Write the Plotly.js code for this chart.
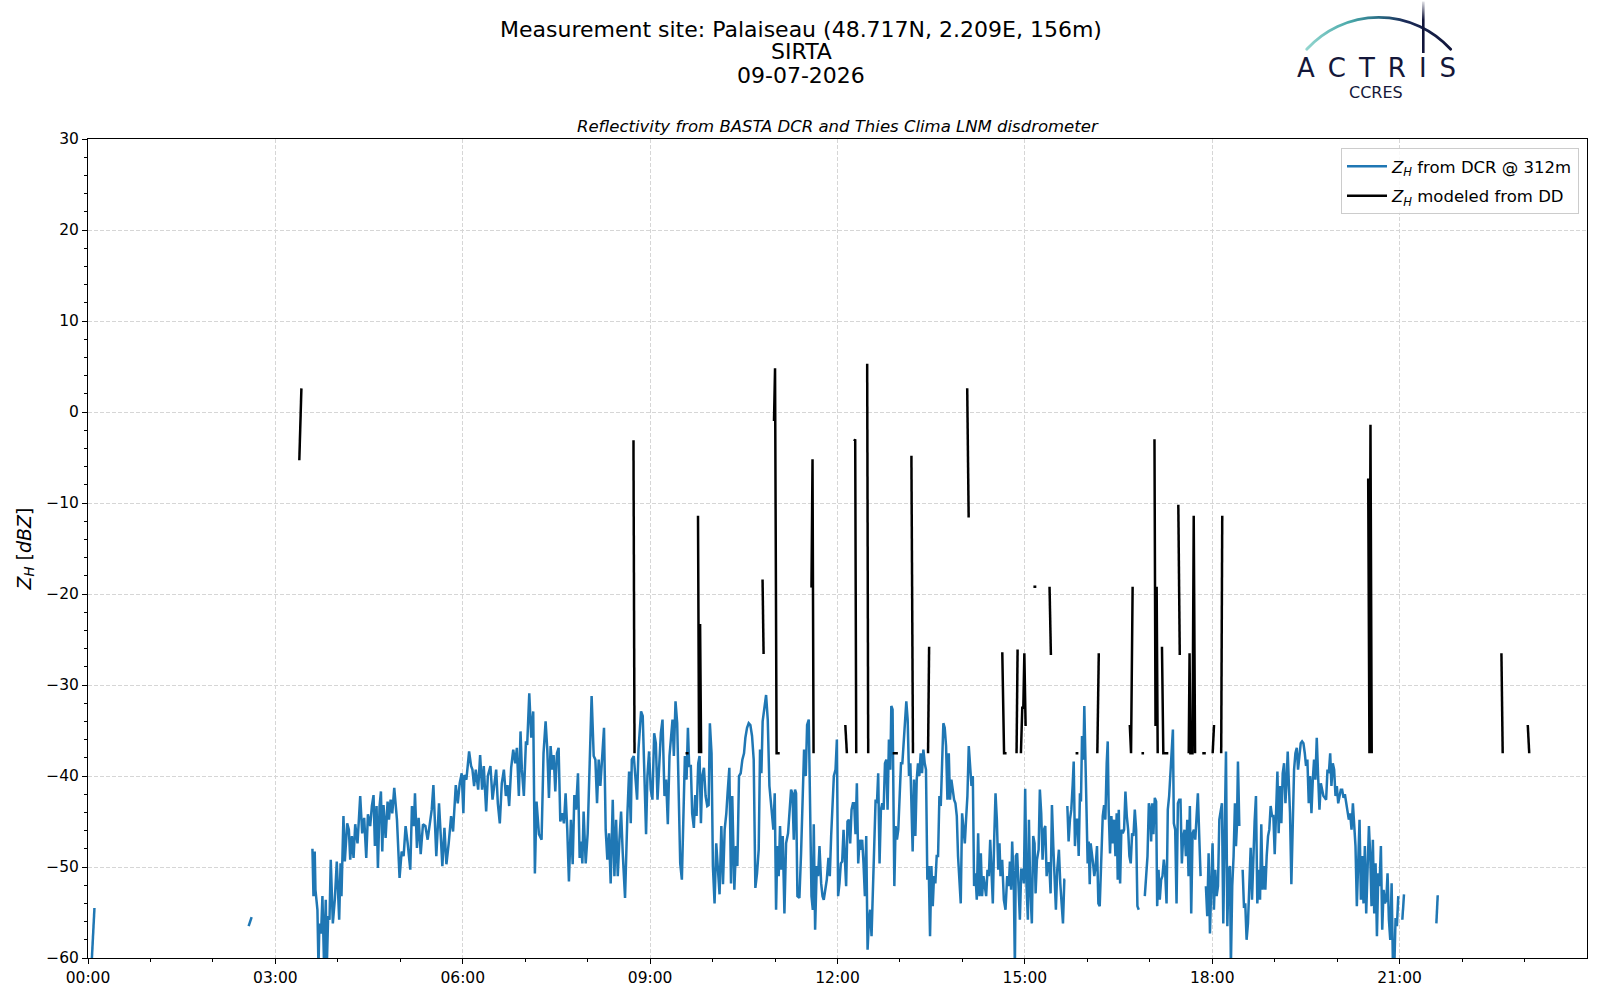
<!DOCTYPE html>
<html>
<head>
<meta charset="utf-8">
<script src="https://cdn.plot.ly/plotly-3.0.1.min.js"></script>
<style>html,body{margin:0;padding:0;background:#fff}#chart{width:1600px;height:1000px}</style>
</head>
<body>
<div id="chart"></div>
<script>
// ---------- data (time in minutes of day, reflectivity in dBZ) ----------
const tickMinutes = [0, 180, 360, 540, 720, 900, 1080, 1260];
const tickLabels = ['00:00', '03:00', '06:00', '09:00', '12:00', '15:00', '18:00', '21:00'];
const minorTickMinutes = [60, 120, 240, 300, 420, 480, 600, 660, 780, 840, 960, 1020, 1140, 1200, 1320, 1380];
const yTickStep = 10;
const yRange = [-60, 30];

const dcrTime = [
3.3,6.2,null,154.3,157.2,null,215.6,216.6,217.8,218.5,
220.4,221.4,222.3,223.9,225.2,226.8,228.4,229.4,230.7,232.0,
233.2,235.2,237.1,239.0,241.3,242.6,243.5,245.4,246.7,249.0,
250.6,251.9,253.5,255.1,256.7,258.9,261.5,263.4,265.3,267.3,
268.9,271.1,272.7,274.3,275.6,277.2,278.5,280.1,281.4,282.7,
283.9,285.9,287.8,289.1,290.7,292.3,294.2,296.8,299.3,301.3,
303.2,305.1,307.1,309.6,311.2,313.1,314.1,316.0,317.6,319.6,
321.8,324.1,326.3,328.2,330.2,331.8,333.0,334.6,337.2,338.5,
340.4,342.4,344.3,346.5,348.8,350.7,353.3,355.2,357.1,359.0,
360.6,361.6,363.5,366.1,368.0,369.3,370.9,372.5,374.8,376.7,
378.6,380.2,382.5,384.1,386.6,388.6,390.5,392.1,393.7,395.6,
397.5,399.5,401.4,403.0,404.6,406.5,408.5,410.4,412.0,413.9,
415.5,416.8,418.7,420.7,421.9,423.9,425.8,427.7,429.3,430.9,
433.2,435.7,437.6,439.6,441.2,442.8,444.4,446.0,447.3,448.9,
450.5,452.1,453.7,455.6,457.2,458.8,460.4,462.0,463.9,465.6,
467.2,468.8,470.7,472.3,473.6,474.9,476.1,478.1,480.0,481.3,
482.6,483.8,485.8,487.4,489.0,490.6,492.2,493.8,495.7,497.3,
498.9,500.5,502.1,504.1,505.7,507.3,508.9,510.5,512.1,513.7,
515.9,518.2,519.8,521.4,522.4,524.3,525.6,527.5,528.8,530.1,
531.3,532.9,534.5,536.1,537.4,539.0,540.6,542.2,543.9,545.5,
547.1,548.7,550.3,551.9,553.8,555.4,557.0,558.6,560.2,561.5,
562.8,564.4,566.0,567.3,568.9,570.5,572.1,573.4,575.0,576.3,
577.5,579.1,580.4,582.0,583.3,584.6,586.2,587.5,588.8,590.1,
591.7,593.3,594.9,596.2,597.4,599.0,600.3,601.9,603.5,605.1,
606.7,608.4,610.0,611.6,613.2,614.4,616.1,617.7,618.9,620.9,
622.5,623.8,625.4,627.0,628.6,630.2,631.5,633.1,634.7,636.3,
637.9,639.5,641.1,642.7,644.3,645.6,646.9,648.1,649.7,651.4,
653.0,654.6,658.4,659.7,661.0,662.2,663.5,664.8,666.1,667.4,
669.0,670.6,672.5,673.8,675.4,676.7,678.0,679.2,680.2,681.5,
683.4,685.0,686.6,687.9,689.5,690.8,692.4,693.7,695.0,696.3,
697.2,698.5,700.1,701.4,702.7,704.3,705.6,706.8,708.4,709.7,
711.3,712.6,713.9,715.2,716.5,718.1,719.4,720.6,721.9,723.2,
724.5,725.8,727.1,728.3,729.6,730.9,732.2,733.5,734.8,736.0,
737.3,738.6,739.9,741.2,742.5,743.7,745.0,746.3,747.6,748.9,
750.2,751.4,752.7,754.0,755.3,756.6,757.9,759.1,760.4,761.7,
763.0,764.3,765.6,766.9,768.1,769.4,770.7,771.7,772.9,774.6,
775.8,777.1,778.4,779.7,781.0,782.3,783.5,784.8,786.1,787.4,
788.7,790.0,791.2,792.2,793.5,794.8,796.1,797.3,798.6,799.9,
801.2,802.5,803.8,805.0,806.3,807.6,808.9,810.2,811.5,812.7,
814.0,815.3,816.6,817.9,819.2,820.4,821.7,823.0,824.3,825.6,
826.9,828.1,829.4,830.7,832.0,833.3,834.6,835.8,837.1,838.4,
839.7,841.0,842.3,843.5,844.8,846.1,847.4,848.7,850.0,851.2,
852.5,853.8,855.1,856.4,857.7,858.9,860.2,861.5,862.8,864.1,
865.4,866.7,867.9,869.2,870.5,871.8,873.1,874.4,875.6,876.6,
878.2,879.8,881.4,883.0,884.6,885.6,886.8,887.8,889.4,890.4,
891.3,892.6,893.9,895.2,896.5,897.8,899.0,900.3,901.6,902.9,
903.9,905.1,906.7,908.0,909.3,910.3,911.6,913.2,914.4,915.7,
917.0,918.3,919.6,920.9,922.1,923.4,924.7,926.0,927.3,928.6,
929.8,931.1,932.7,934.0,935.3,936.6,937.9,938.8,null,940.8,
942.0,943.3,944.6,945.9,946.9,948.1,949.4,950.7,951.7,952.9,
953.9,954.9,956.2,957.1,958.4,959.4,960.3,961.3,962.3,963.2,
964.2,965.5,966.7,968.0,969.3,970.6,971.9,973.2,974.8,976.1,
977.3,978.6,979.6,980.5,981.8,983.1,984.4,985.7,987.0,988.2,
989.2,990.2,991.5,992.7,994.0,995.3,996.6,997.9,999.2,1000.4,
1001.7,1003.0,1004.3,1005.6,1006.9,1008.1,1009.4,null,1015.2,1016.5,
1017.8,1019.1,1020.3,1021.3,1022.3,1023.5,1024.8,1026.1,1027.1,1028.4,
1029.6,1030.9,1032.2,1033.5,1034.8,1036.1,1037.3,1038.6,1039.9,1041.2,
1042.2,1043.1,1044.4,1045.7,1047.0,1048.3,1049.5,1050.8,1052.1,1053.4,
1054.7,1056.0,1057.2,1058.5,1059.8,1061.1,1062.4,1063.7,1064.9,1066.2,
1067.5,1068.8,null,1073.9,1075.2,1076.5,1077.8,1079.1,1080.3,1081.6,
1082.9,1084.2,1085.5,1086.8,1088.0,1089.3,1090.6,1091.9,1093.2,1094.5,
1095.7,1097.0,1097.9,1099.2,1100.5,1101.8,1102.8,1103.7,1104.7,1106.0,
null,1109.2,1110.5,1111.7,1113.0,1114.3,1115.6,1116.9,1118.2,1119.4,
1120.7,1122.0,1123.3,1124.6,1125.9,1127.1,1128.4,1129.7,1131.0,1132.3,
1133.6,1134.8,1136.1,1137.4,1138.7,1140.0,1141.3,1142.6,1143.8,1145.1,
1146.4,1147.7,1149.0,1150.3,1151.5,1152.5,1153.8,1154.7,1156.0,1157.3,
1158.6,1159.9,1161.2,1162.4,1163.7,1165.0,1166.3,1167.6,1168.9,1170.1,
1171.4,1172.7,1174.0,1175.3,1176.6,1177.8,1179.1,1180.4,1181.7,1183.0,
1184.3,1185.6,1186.8,1188.1,1189.4,1190.7,1192.0,1193.3,1194.5,1195.8,
1197.1,1198.4,1199.7,1201.0,1202.2,1203.5,1204.8,1206.1,1207.4,1208.7,
1209.9,1211.2,1212.5,1213.8,1215.1,1216.4,1217.6,1218.9,1220.2,1221.5,
1222.8,1224.1,1225.3,1226.6,1227.9,1229.2,1230.5,1231.8,1233.0,1234.3,
1235.6,1236.9,1238.2,1239.5,1240.7,1242.0,1243.3,1244.6,1245.9,1247.2,
1248.4,1249.7,1251.0,1252.3,1253.6,1254.9,1256.1,1257.4,1258.7,null,
1262.6,1264.2,null,1295.3,1296.6
];

const dcrZh = [
-61,-54.5,null,-56.5,-55.5,null,-48.0,-53.2,-48.3,-52.5,
-54.7,-61,-56.2,-57.3,-53.2,-61,-53.6,-61,-55.4,-55.8,
-49.2,-56.2,-53.6,-49.4,-55.8,-49.6,-53.2,-44.4,-49.4,-45.2,
-45.9,-49.2,-46.6,-49.0,-45.3,-47.4,-42.2,-46.3,-44.6,-49.0,
-44.2,-45.5,-43.3,-42.1,-47.7,-43.3,-50.1,-43.3,-41.7,-48.3,
-43.2,-46.8,-42.8,-44.8,-42.6,-44.1,-41.3,-44.8,-51.2,-48.3,
-48.8,-45.5,-47.4,-50.3,-43.3,-45.5,-41.9,-47.9,-44.6,-48.6,
-45.3,-45.5,-47.0,-45.2,-43.7,-41.0,-44.1,-48.8,-43.0,-45.9,
-49.9,-45.7,-49.7,-47.4,-44.4,-46.1,-41.0,-43.0,-40.8,-39.7,
-44.1,-39.9,-40.4,-37.3,-38.9,-39.3,-41.1,-39.3,-41.5,-37.7,
-41.5,-38.9,-43.9,-40.0,-38.9,-42.6,-40.4,-39.3,-43.0,-45.2,
-40.8,-39.3,-42.2,-41.0,-43.3,-39.1,-37.1,-38.6,-36.9,-42.2,
-35.1,-39.3,-42.2,-36.2,-36.6,-30.9,-35.8,-32.9,-50.7,-42.8,
-46.4,-47.0,-37.5,-34.0,-37.1,-42.4,-36.7,-39.3,-37.7,-41.7,
-37.5,-36.9,-45.0,-44.1,-45.2,-41.9,-45.9,-51.6,-44.8,-49.7,
-42.1,-43.7,-39.7,-49.0,-47.2,-49.6,-43.9,-49.6,-46.3,-41.5,
-37.3,-31.2,-37.8,-38.2,-43.0,-38.2,-41.1,-38.2,-34.7,-45.9,
-49.2,-46.3,-51.8,-42.6,-51.0,-44.8,-51.0,-47.0,-43.9,-48.5,
-53.4,-44.1,-39.5,-45.2,-38.2,-37.8,-39.7,-42.6,-37.1,-35.3,
-32.9,-33.4,-40.0,-46.4,-40.0,-37.3,-41.5,-42.6,-35.3,-36.4,
-42.6,-38.6,-35.3,-33.8,-42.2,-40.4,-45.3,-37.8,-35.3,-33.8,
-37.8,-31.8,-34.2,-41.5,-49.6,-51.4,-44.4,-37.8,-40.4,-34.7,
-38.9,-38.9,-44.1,-45.7,-42.1,-44.4,-38.6,-37.8,-45.2,-40.0,
-39.1,-42.2,-43.3,-43.2,-34.2,-37.5,-49.9,-54.0,-47.4,-50.3,
-53.0,-45.5,-51.9,-45.9,-44.1,-41.9,-39.1,-51.8,-42.2,-52.5,
-47.7,-49.9,-40.0,-39.7,-38.2,-37.5,-35.8,-34.7,-34.2,-34.4,
-35.6,-38.2,-52.3,-50.7,-48.1,-37.1,-39.7,-34.0,-32.7,-31.1,
-33.8,-41.1,-45.9,-41.9,-54.7,-47.7,-51.0,-45.5,-50.3,-46.6,
-55.1,-47.4,-46.3,-44.4,-41.5,-41.9,-47.0,-41.5,-41.9,-53.2,
-53.4,-48.5,-43.0,-37.1,-40.0,-34.4,-33.8,-43.0,-53.2,-54.7,
-45.3,-56.9,-49.9,-51.0,-47.7,-51.8,-53.2,-53.6,-52.1,-51.4,
-49.0,-51.0,-46.6,-42.6,-40.0,-39.3,-36.0,-53.2,-51.8,-49.6,
-49.4,-45.9,-49.9,-52.1,-45.0,-44.8,-47.4,-43.7,-43.0,-43.0,
-46.4,-40.8,-49.6,-47.0,-48.1,-47.0,-49.6,-53.2,-46.6,-59.1,
-55.8,-54.7,-57.6,-51.8,-48.8,-42.6,-43.0,-39.7,-49.6,-43.7,
-43.0,-43.7,-38.6,-38.2,-43.7,-36.0,-39.3,-32.3,-32.7,-52.1,
-45.5,-47.0,-45.9,-42.2,-38.6,-38.6,-36.0,-33.4,-31.8,-33.8,
-40.0,-38.6,-44.4,-48.3,-40.4,-46.6,-40.4,-38.6,-40.0,-37.5,
-39.7,-37.1,-38.6,-39.3,-51.4,-49.9,-57.6,-49.9,-54.3,-51.0,
-51.8,-48.8,-48.8,-42.2,-43.3,-37.8,-34.2,-34.7,-36.7,-42.6,
-37.5,-42.6,-40.4,-41.5,-42.6,-43.0,-44.4,-48.8,-51.8,-54.0,
-44.1,-45.5,-47.4,-44.8,-42.2,-36.7,-38.6,-41.1,-40.0,-52.1,
-50.7,-53.6,-46.3,-53.2,-48.5,-53.2,-51.0,-52.5,-53.2,-50.3,
-51.0,-47.0,-51.0,-54.0,-47.0,-41.9,-44.8,-50.3,-47.4,-51.0,
-49.2,-53.6,-54.7,-51.0,-52.1,-49.4,-52.5,-47.2,-52.3,-61,
-48.8,-48.5,-52.1,-55.8,-50.3,-50.3,-51.8,-41.4,-52.1,-55.8,
-44.8,-52.1,-56.2,-46.6,-47.4,-52.9,-49.2,-48.1,-41.5,-44.1,
-49.2,-45.9,-45.5,-51.0,-49.6,-49.6,-52.9,-43.2,-47.7,-52.1,
-54.7,-50.3,-48.1,-51.8,-53.6,-56.2,-51.4,-51.4,null,-43.3,
-47.2,-44.8,-43.7,-41.0,-38.4,-47.7,-44.8,-44.8,-48.8,-41.9,
-42.8,-35.6,-38.2,-32.3,-39.3,-43.3,-49.6,-47.2,-51.9,-47.4,
-48.8,-49.6,-51.0,-49.9,-47.7,-54.0,-54.3,-50.3,-44.4,-43.2,
-44.8,-38.6,-36.2,-43.7,-48.5,-44.4,-47.4,-44.8,-48.8,-44.1,
-51.4,-43.7,-51.8,-45.9,-46.3,-45.9,-41.7,-44.4,-45.9,-48.8,
-49.6,-46.3,-46.6,-43.7,-45.9,-54.3,-54.7,null,-53.2,-51.0,
-48.8,-43.0,-43.7,-47.2,-43.0,-46.4,-42.4,-42.8,-54.3,-50.3,
-53.6,-51.4,-51.0,-49.2,-50.7,-54.0,-43.7,-42.2,-39.3,-37.5,
-34.9,-45.2,-45.9,-54.0,-43.0,-42.6,-42.6,-49.6,-46.6,-45.9,
-48.8,-44.8,-51.0,-43.3,-55.1,-46.3,-45.9,-47.0,-43.7,-41.9,
-46.6,-51.0,null,-52.1,-55.4,-48.5,-57.3,-51.8,-47.4,-54.7,
-50.3,-53.2,-52.1,-44.8,-43.7,-43.0,-56.2,-47.7,-37.3,-56.5,
-50.3,-49.9,-61,-52.1,-48.8,-43.0,-47.7,-45.5,-38.4,-45.5,
null,-50.3,-54.5,-54.0,-58.0,-56.2,-51.1,-47.9,-53.6,-48.8,
-45.0,-42.2,-54.0,-50.3,-53.6,-45.3,-52.5,-49.9,-52.5,-48.8,
-46.6,-45.9,-43.3,-44.4,-44.4,-48.6,-43.7,-39.5,-46.3,-41.1,
-45.2,-39.7,-38.6,-43.0,-40.4,-37.3,-41.5,-44.1,-51.9,-44.4,
-39.3,-37.5,-36.9,-39.3,-37.8,-36.4,-36.2,-36.4,-37.5,-38.9,
-38.2,-43.0,-40.0,-44.1,-40.4,-38.2,-40.4,-35.8,-40.0,-43.7,
-40.8,-41.5,-42.2,-42.4,-42.6,-39.3,-39.7,-37.5,-41.1,-38.6,
-39.3,-42.2,-41.1,-43.0,-42.2,-41.5,-41.5,-42.4,-42.0,-43.0,
-43.7,-44.8,-44.1,-45.9,-43.0,-45.5,-47.7,-54.3,-50.3,-44.8,
-53.6,-48.8,-54.0,-47.7,-55.1,-49.9,-45.5,-48.8,-54.3,-47.0,
-55.1,-49.6,-57.6,-50.7,-52.1,-47.7,-56.9,-52.5,-54.0,-53.6,
-50.7,-55.8,-58.0,-51.8,-61,-61,-55.6,-56.5,-53.2,null,
-55.8,-53.0,null,-56.2,-53.1
];

const ddTime = [
203,205,null,
524,525,null,
574,577,null,
586,587,588,589,null,
648,649,null,
659,660,661.5,664.5,null,
695,696,697,null,
727.5,729,null,
736,737,738,null,
748.5,749.5,null,
773,778,null,
791,792.5,null,
807,808,null,
844.6,846,null,
878.3,880,882.4,null,
892,893,null,
896.2,897.5,898.5,899.5,900.7,null,
908.2,911,null,
923.7,925,null,
948.7,951.4,null,
969.6,971,null,
1000.8,1002,1003.5,null,
1012,1014.5,null,
1024.5,1025.5,1026.6,1027.6,null,
1031.7,1033,1037.8,null,
1047.4,1048.8,null,
1057.4,1058.2,1059,1061,1062.2,1063.5,null,
1070.4,1073.8,null,
1080.4,1081.7,null,
1088.6,1089.6,null,
1229.8,1231,1232,1233.2,null,
1357.8,1359,null,
1383.1,1384.5
];

const ddZh = [
-5.3,2.6,null,
-3.1,-37.5,null,
-37.5,-37.5,null,
-11.4,-37.5,-23.3,-37.5,null,
-18.4,-26.6,null,
-1.0,4.8,-37.5,-37.5,null,
-19.3,-5.2,-37.5,null,
-34.4,-37.5,null,
-3.2,-3.0,-37.5,null,
5.3,-37.5,null,
-37.5,-37.5,null,
-4.8,-37.5,null,
-37.5,-25.8,null,
2.6,-11.6,null,
-26.4,-37.5,-37.5,null,
-37.5,-26.1,null,
-37.5,-32.5,-32.5,-26.5,-34.5,null,
-19.2,-19.2,null,
-19.2,-26.7,null,
-37.5,-37.5,null,
-37.5,-26.5,null,
-34.4,-37.5,-19.2,null,
-37.5,-37.5,null,
-3.0,-34.5,-19.2,-37.5,null,
-25.8,-37.5,-37.5,null,
-10.2,-26.7,null,
-37.5,-26.5,-37.5,-37.5,-11.4,-37.5,null,
-37.5,-37.5,null,
-37.5,-34.4,null,
-37.5,-11.4,null,
-7.3,-37.5,-1.4,-37.5,null,
-26.5,-37.5,null,
-34.4,-37.5
];

const seriesNames = [
  '<i>Z</i><sub><i>H</i></sub> from DCR @ 312m',
  '<i>Z</i><sub><i>H</i></sub> modeled from DD'
];
const titleLines = ['Measurement site: Palaiseau (48.717N, 2.209E, 156m)', 'SIRTA', '09-07-2026'];
const subtitle = 'Reflectivity from BASTA DCR and Thies Clima LNM disdrometer';
const yLabel = '<i>Z</i><sub><i>H</i></sub> [<i>dBZ</i>]';
const logoWord = 'ACTRIS';
const logoSub = 'CCRES';

// ---------- layout helpers ----------
const W = 1600, H = 1000;
const M = {l: 88, r: 13, t: 139, b: 42};
const PW = W - M.l - M.r, PH = H - M.t - M.b;
const px = x => (x - M.l) / PW;
const py = y => (H - M.b - y) / PH;
const FONT = 'DejaVu Sans, Verdana, sans-serif';
const INK = '#14173a';

const traces = [
  {
    x: dcrTime, y: dcrZh, type: 'scatter', mode: 'lines', name: seriesNames[0],
    legendgroup: 'dcr', connectgaps: false,
    line: {color: '#1f77b4', width: 2.5}, hoverinfo: 'skip'
  },
  {
    x: ddTime, y: ddZh, type: 'scatter', mode: 'lines', name: seriesNames[1],
    legendgroup: 'dd', connectgaps: false,
    line: {color: '#000000', width: 2.5}, hoverinfo: 'skip'
  }
];

const logoSvg =
'<svg xmlns="http://www.w3.org/2000/svg" width="160" height="56" viewBox="0 0 160 56">' +
'<defs>' +
'<linearGradient id="g" x1="6" y1="0" x2="151" y2="0" gradientUnits="userSpaceOnUse">' +
'<stop offset="0" stop-color="#93d6cf"/><stop offset="0.3" stop-color="#4aa9aa"/>' +
'<stop offset="0.5" stop-color="#2a6e86"/><stop offset="0.68" stop-color="#1b2b58"/>' +
'<stop offset="1" stop-color="#11153a"/></linearGradient>' +
'<linearGradient id="v" x1="0" y1="0" x2="0" y2="56" gradientUnits="userSpaceOnUse">' +
'<stop offset="0" stop-color="#11153a" stop-opacity="0.05"/><stop offset="0.35" stop-color="#11153a"/>' +
'<stop offset="1" stop-color="#11153a"/></linearGradient>' +
'</defs>' +
'<path d="M6.7 49.3 A97 97 0 0 1 150.7 49.3" fill="none" stroke="url(#g)" stroke-width="2.8" stroke-linecap="round"/>' +
'<line x1="123.3" y1="1.5" x2="123.3" y2="53" stroke="url(#v)" stroke-width="2.6"/>' +
'</svg>';

const annText = (text, x, y, size, extra) => Object.assign({
  text: text, x: px(x), y: py(y), xref: 'paper', yref: 'paper',
  xanchor: 'center', yanchor: 'middle', showarrow: false,
  font: {family: FONT, size: size, color: '#000'}
}, extra || {});

const axisCommon = {
  ticks: 'outside', ticklen: 5, tickwidth: 1, tickcolor: '#000',
  showline: true, linecolor: '#000', linewidth: 1, mirror: true,
  showgrid: true, gridcolor: '#d6d6d6', gridwidth: 1, griddash: '4px,2px',
  zeroline: false, tickfont: {family: FONT, size: 15.5, color: '#000'},
  fixedrange: true
};

const layout = {
  width: W, height: H,
  margin: {l: M.l, r: M.r, t: M.t, b: M.b, pad: 0},
  paper_bgcolor: '#ffffff', plot_bgcolor: '#ffffff',
  font: {family: FONT, size: 15, color: '#000'},
  showlegend: true,
  legend: {
    x: px(1579), xanchor: 'right', y: py(148), yanchor: 'top',
    bgcolor: 'rgba(255,255,255,0.85)', bordercolor: '#cccccc', borderwidth: 1,
    font: {family: FONT, size: 16.5, color: '#000'},
    traceorder: 'grouped', tracegroupgap: 5, itemwidth: 40
  },
  xaxis: Object.assign({}, axisCommon, {
    range: [0, 1440], tickmode: 'array', tickvals: tickMinutes, ticktext: tickLabels,
    minor: {tickmode: 'array', tickvals: minorTickMinutes, ticks: 'outside', ticklen: 3,
            tickwidth: 1, tickcolor: '#000', showgrid: false}
  }),
  yaxis: Object.assign({}, axisCommon, {
    range: yRange, tickmode: 'linear', tick0: 0, dtick: yTickStep,
    minor: {tickmode: 'linear', tick0: 0, dtick: 2, ticks: 'outside', ticklen: 3,
            tickwidth: 1, tickcolor: '#000', showgrid: false}
  }),
  annotations: [
    annText(titleLines[0], 801, 29, 22),
    annText(titleLines[1], 801, 51.5, 22),
    annText(titleLines[2], 801, 75, 22),
    annText('<i>' + subtitle + '</i>', 837.5, 126, 16.5),
    annText(yLabel, 24.5, 549, 19, {textangle: -90}),
    annText(logoWord.split('').join('\u2002'), 1376, 67.8, 26, {font: {family: FONT, size: 26, color: INK}}),
    annText(logoSub, 1376.4, 92.2, 16, {font: {family: FONT, size: 16, color: INK}})
  ],
  images: [{
    source: 'data:image/svg+xml;charset=utf-8,' + encodeURIComponent(logoSvg),
    xref: 'paper', yref: 'paper', x: px(1300), y: py(0),
    sizex: 160 / PW, sizey: 56 / PH, xanchor: 'left', yanchor: 'top',
    sizing: 'stretch', layer: 'above'
  }]
};

Plotly.newPlot('chart', traces, layout, {displayModeBar: false, staticPlot: true});
</script>
</body>
</html>
